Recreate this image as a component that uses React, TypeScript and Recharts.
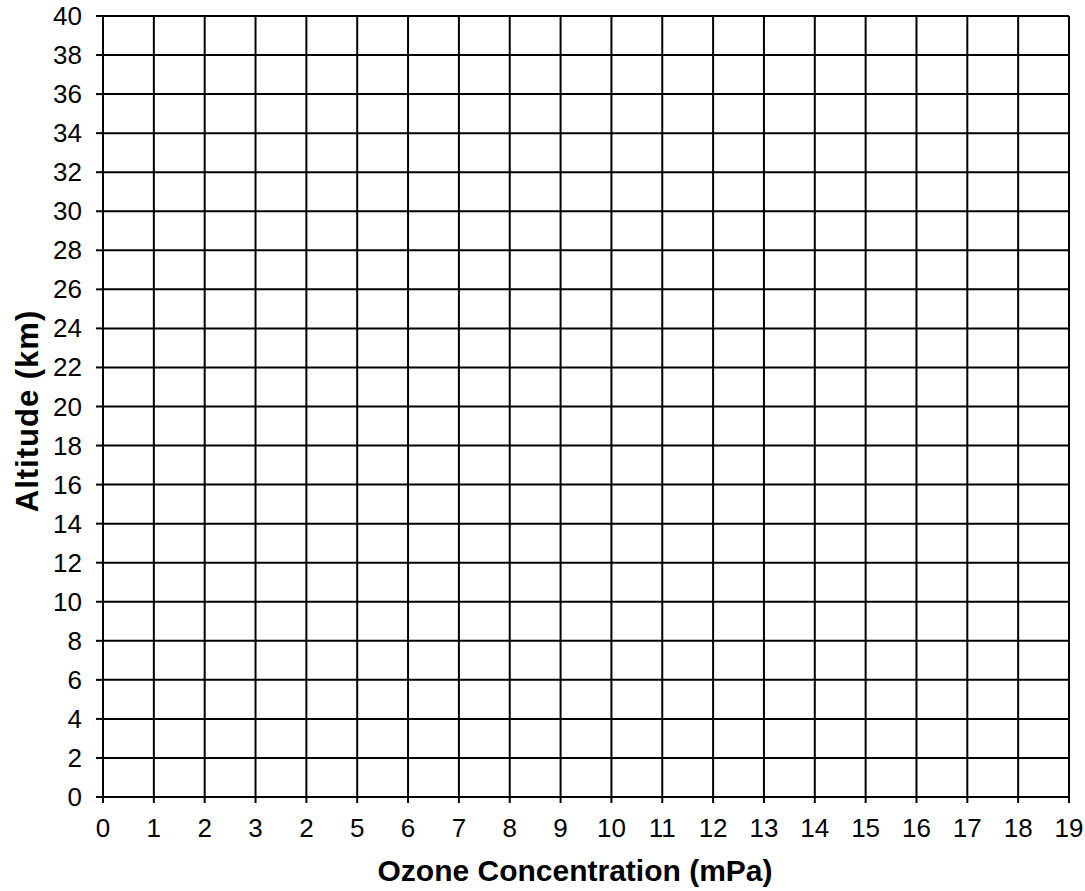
import { ScatterChart, Scatter, XAxis, YAxis, CartesianGrid } from "recharts";

// x axis ticks and their printed labels (the original prints "2" at the 4 position)
const xTicks = [0, 1, 2, 3, 4, 5, 6, 7, 8, 9, 10, 11, 12, 13, 14, 15, 16, 17, 18, 19];
const xTickLabels = ["0", "1", "2", "3", "2", "5", "6", "7", "8", "9", "10", "11", "12", "13", "14", "15", "16", "17", "18", "19"];
const yTicks = [0, 2, 4, 6, 8, 10, 12, 14, 16, 18, 20, 22, 24, 26, 28, 30, 32, 34, 36, 38, 40];
// blank worksheet: no measurements plotted
const ozoneData: { ozone: number; altitude: number }[] = [];

const font = "'Liberation Sans', Arial, Helvetica, sans-serif";

const XTick = (props: any) => {
  const { x, y, payload } = props;
  return (
    <text x={x} y={y} dy={18} textAnchor="middle" fontFamily={font} fontSize={26} fill="#000">
      {xTickLabels[payload.value]}
    </text>
  );
};

const YTick = (props: any) => {
  const { x, y, payload } = props;
  return (
    <text x={x} y={y} dy={9} textAnchor="end" fontFamily={font} fontSize={26} fill="#000">
      {payload.value}
    </text>
  );
};

export default function App() {
  return (
    <div style={{ position: "absolute", left: 0, top: 0, background: "#fff" }}>
      <ScatterChart width={1085} height={891} margin={{ top: 16, right: 16, left: 0, bottom: 0 }}>
        <CartesianGrid stroke="#000" strokeWidth={2} />
        <XAxis
          type="number"
          dataKey="ozone"
          domain={[0, 19]}
          allowDataOverflow
          ticks={xTicks}
          interval={0}
          height={94}
          tickSize={6}
          tickMargin={16}
          axisLine={{ stroke: "#000", strokeWidth: 2 }}
          tickLine={{ stroke: "#000", strokeWidth: 2 }}
          tick={<XTick />}
          label={{
            content: () => (
              <text x={575} y={881} textAnchor="middle" fontFamily={font} fontWeight="bold" fontSize={30} fill="#000">
                Ozone Concentration (mPa)
              </text>
            ),
          }}
        />
        <YAxis
          type="number"
          dataKey="altitude"
          domain={[0, 40]}
          allowDataOverflow
          ticks={yTicks}
          interval={0}
          width={103}
          tickSize={7}
          tickMargin={14}
          axisLine={{ stroke: "#000", strokeWidth: 2 }}
          tickLine={{ stroke: "#000", strokeWidth: 2 }}
          tick={<YTick />}
          label={{
            content: () => (
              <text
                x={0}
                y={0}
                transform="translate(38, 411) rotate(-90)"
                textAnchor="middle"
                fontFamily={font}
                fontWeight="bold"
                fontSize={31}
                letterSpacing={1}
                fill="#000"
              >
                Altitude (km)
              </text>
            ),
          }}
        />
        <Scatter data={ozoneData} fill="#000" isAnimationActive={false} />
      </ScatterChart>
    </div>
  );
}
